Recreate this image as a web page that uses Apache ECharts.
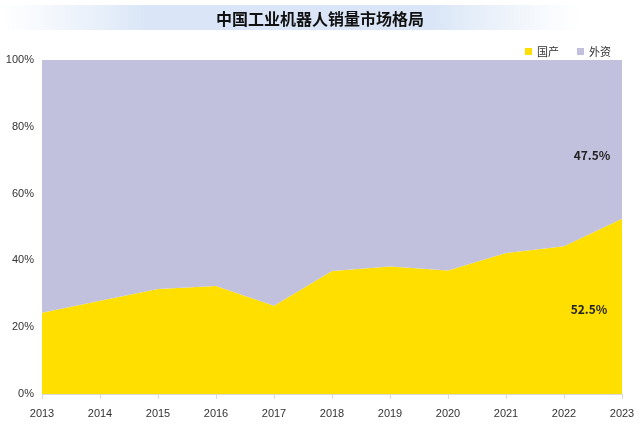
<!DOCTYPE html>
<html><head><meta charset="utf-8">
<script src="https://cdn.jsdelivr.net/npm/echarts@6/dist/echarts.min.js"></script>
<style>html,body{margin:0;padding:0;background:#fff}#c{width:640px;height:428px}</style>
</head><body><div id="c"></div>
<script>
const years = ['2013','2014','2015','2016','2017','2018','2019','2020','2021','2022','2023'];
const domestic = [24.3, 27.9, 31.4, 32.3, 26.4, 36.8, 38.2, 37.0, 42.2, 44.2, 52.5];
const foreign = [75.7, 72.1, 68.6, 67.7, 73.6, 63.2, 61.8, 63.0, 57.8, 55.8, 47.5];
const yTicks = [0, 20, 40, 60, 80, 100];

const chart = echarts.init(document.getElementById('c'));
const font = '"Noto Sans CJK SC", "Noto Sans", sans-serif';
function lastLabel(arr, offset) {
  return arr.map((v, i) => i === arr.length - 1 ? {
    value: v,
    label: {show: true, formatter: v.toFixed(1) + '%', offset: offset, fontWeight: 'bold', fontSize: 12, color: '#222', fontFamily: font, position: 'top'}
  } : v);
}
chart.setOption({
  animation: false,
  graphic: [{
    type: 'rect', left: 0, top: 5, shape: {width: 580, height: 25}, z: -1,
    style: {fill: new echarts.graphic.LinearGradient(0, 0, 1, 0, [
      {offset: 0, color: 'rgba(225,235,248,0)'},
      {offset: 0.25, color: 'rgba(218,230,247,1)'},
      {offset: 0.75, color: 'rgba(218,230,247,1)'},
      {offset: 1, color: 'rgba(225,235,248,0)'}])}
  }],
  title: {text: '中国工业机器人销量市场格局', left: 'center', top: 6,
    textStyle: {fontSize: 16, fontWeight: 'bold', color: '#111', fontFamily: font}},
  legend: {right: 24, top: 41, itemWidth: 7, itemHeight: 7, itemGap: 18, icon: 'rect',
    textStyle: {fontSize: 11, color: '#333', fontFamily: font},
    data: ['国产', '外资']},
  grid: {left: 42, right: 18, top: 60, bottom: 34},
  xAxis: {type: 'category', data: years, boundaryGap: false,
    axisLine: {lineStyle: {color: '#d9d9d9'}},
    axisTick: {show: true, lineStyle: {color: '#d9d9d9'}},
    axisLabel: {color: '#333', fontSize: 11, margin: 14, fontFamily: '"Liberation Sans", sans-serif'}},
  yAxis: {type: 'value', min: 0, max: 100, interval: 20,
    splitLine: {show: false}, axisLine: {show: false}, axisTick: {show: false},
    axisLabel: {color: '#333', fontSize: 11, formatter: v => yTicks.includes(v) ? v + '%' : '', fontFamily: '"Liberation Sans", sans-serif'}},
  series: [
    {name: '国产', type: 'line', stack: 'all', symbol: 'circle', symbolSize: 0, showSymbol: true, lineStyle: {width: 0},
      itemStyle: {color: '#FEDF00'}, areaStyle: {color: '#FEDF00', opacity: 1},
      data: lastLabel(domestic, [-33, 102])},
    {name: '外资', type: 'line', stack: 'all', symbol: 'circle', symbolSize: 0, showSymbol: true, lineStyle: {width: 0},
      itemStyle: {color: '#C1C1DE'}, areaStyle: {color: '#C1C1DE', opacity: 1},
      data: lastLabel(foreign, [-30, 106])}
  ]
});
</script></body></html>
